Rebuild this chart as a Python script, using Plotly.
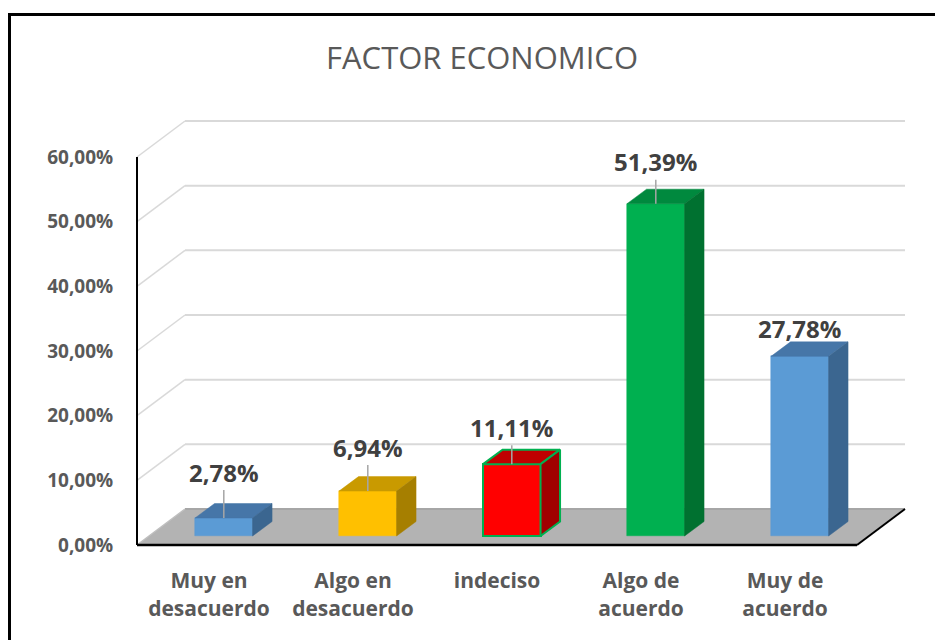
import plotly.graph_objects as go

# ---------------- data ----------------
categories = ["Muy en<br>desacuerdo", "Algo en<br>desacuerdo", "indeciso",
              "Algo de<br>acuerdo", "Muy de<br>acuerdo"]
values = [2.78, 6.94, 11.11, 51.39, 27.78]
value_labels = ["2,78%", "6,94%", "11,11%", "51,39%", "27,78%"]
y_ticks = [0, 10, 20, 30, 40, 50, 60]
y_tick_labels = ["0,00%", "10,00%", "20,00%", "30,00%", "40,00%", "50,00%", "60,00%"]
title_text = "FACTOR ECONOMICO"

# ---------------- styles ----------------
front_colors = ["#5B9BD5", "#FFC000", "#FF0000", "#00B050", "#5B9BD5"]
top_colors = ["#4676A8", "#C99A00", "#C00000", "#00893E", "#4676A8"]
side_colors = ["#3B6690", "#A67F00", "#A00000", "#007130", "#3B6690"]
edge_colors = ["#5B9BD5", "#FFC000", "#00B050", "#00B050", "#5B9BD5"]
edge_widths = [0.5, 0.5, 2, 0.5, 0.5]
label_offsets_px = [46, 44, 37, 42, 28]
label_leader = [True, True, True, True, False]

FONT = "Open Sans"
W, H = 943, 640
PAGE_OFF = 8                      # default body margin of the html page
X0_PX, Y0_PX = 137 - PAGE_OFF, 545 - PAGE_OFF   # front-plane origin (figure px)
PX_PER_CAT = 144.0
PX_PER_PCT = 6.467
BACK_DX_PX, BACK_DY_PX = 48, 36   # depth of the floor
BAR_DX_PX, BAR_DY_PX = 14.8, 9    # bar plane offset
BAR_W_PX = 57.5
DEPTH_DX_PX, DEPTH_DY_PX = 19.5, 14.5
PAD = 4

n = len(categories)
x_min = -0.5
x_max = n - 0.5
y_top = y_ticks[-1]
bdx = BACK_DX_PX / PX_PER_CAT
bdy = BACK_DY_PX / PX_PER_PCT
bar_dx = BAR_DX_PX / PX_PER_CAT
bar_dy = BAR_DY_PX / PX_PER_PCT
bar_w = BAR_W_PX / PX_PER_CAT
ddx = DEPTH_DX_PX / PX_PER_CAT
ddy = DEPTH_DY_PX / PX_PER_PCT

left = X0_PX - PAD
bottom_px = Y0_PX + PAD
plot_w = n * PX_PER_CAT + BACK_DX_PX + 2 * PAD
plot_h = y_top * PX_PER_PCT + BACK_DY_PX + 2 * PAD
right = W - left - plot_w
top = bottom_px - plot_h
bottom = H - bottom_px

x_range = [x_min - PAD / PX_PER_CAT, x_max + bdx + PAD / PX_PER_CAT]
y_range = [-PAD / PX_PER_PCT, y_top + bdy + PAD / PX_PER_PCT]

fig = go.Figure()

# front faces
centers = [i + bar_dx for i in range(n)]
fig.add_trace(go.Bar(
    x=centers, y=values, base=bar_dy, width=bar_w,
    marker=dict(color=front_colors,
                line=dict(color=edge_colors, width=edge_widths)),
    hoverinfo="skip", showlegend=False,
))

# top and side faces
for i, v in enumerate(values):
    c = centers[i]
    xl, xr = c - bar_w / 2, c + bar_w / 2
    yb, yt = bar_dy, bar_dy + v
    fig.add_trace(go.Scatter(
        x=[xl, xr, xr + ddx, xl + ddx, xl],
        y=[yt, yt, yt + ddy, yt + ddy, yt],
        mode="lines", fill="toself", fillcolor=top_colors[i],
        line=dict(color=edge_colors[i] if edge_widths[i] > 1 else top_colors[i],
                  width=edge_widths[i]),
        hoverinfo="skip", showlegend=False, cliponaxis=False,
    ))
    fig.add_trace(go.Scatter(
        x=[xr, xr + ddx, xr + ddx, xr, xr],
        y=[yb, yb + ddy, yt + ddy, yt, yb],
        mode="lines", fill="toself", fillcolor=side_colors[i],
        line=dict(color=edge_colors[i] if edge_widths[i] > 1 else side_colors[i],
                  width=edge_widths[i]),
        hoverinfo="skip", showlegend=False, cliponaxis=False,
    ))

shapes = []
# floor
shapes.append(dict(type="path", xref="x", yref="y", layer="below",
                   path=f"M {x_min},0 L {x_max},0 L {x_max + bdx},{bdy} L {x_min + bdx},{bdy} Z",
                   fillcolor="#B3B3B3", line=dict(width=0)))
# back wall + left wall grid
for v in y_ticks:
    col = "#D9D9D9" if v > 0 else "#A6A6A6"
    shapes.append(dict(type="line", xref="x", yref="y", layer="below",
                       x0=x_min + bdx, y0=v + bdy, x1=x_max + bdx, y1=v + bdy,
                       line=dict(color=col, width=2)))
    shapes.append(dict(type="line", xref="x", yref="y", layer="below",
                       x0=x_min, y0=v, x1=x_min + bdx, y1=v + bdy,
                       line=dict(color="#D9D9D9" if v > 0 else "#BFBFBF", width=1.5)))
# front axes
shapes.append(dict(type="line", xref="x", yref="y", layer="below",
                   x0=x_min, y0=0, x1=x_min, y1=y_top, line=dict(color="#000000", width=2)))
shapes.append(dict(type="line", xref="x", yref="y", layer="below",
                   x0=x_min, y0=0, x1=x_max, y1=0, line=dict(color="#000000", width=2.5)))
shapes.append(dict(type="line", xref="x", yref="y", layer="below",
                   x0=x_max, y0=0, x1=x_max + bdx, y1=bdy, line=dict(color="#000000", width=2)))
# outer border
def xp(px):
    return (px - PAGE_OFF - left) / plot_w
def yp(py):
    return (H - bottom - (py - PAGE_OFF)) / plot_h
shapes.append(dict(type="rect", xref="paper", yref="paper",
                   x0=xp(9.5), x1=xp(W + 20), y0=yp(H + 20), y1=yp(14.5),
                   line=dict(color="#000000", width=3), fillcolor="rgba(0,0,0,0)"))

annotations = []
for i, v in enumerate(values):
    annotations.append(dict(
        x=centers[i], y=bar_dy + v, xref="x", yref="y",
        text=value_labels[i], showarrow=True, arrowhead=0, standoff=0,
        arrowwidth=1.5,
        arrowcolor="#A6A6A6" if label_leader[i] else "rgba(0,0,0,0)",
        ax=0, ay=-label_offsets_px[i],
        font=dict(family=FONT, size=24, color="#404040", weight="bold"),
    ))

fig.update_layout(
    width=W, height=H,
    margin=dict(l=left, r=right, t=top, b=bottom, autoexpand=False),
    paper_bgcolor="white", plot_bgcolor="white",
    title=dict(text=title_text, x=(482 - PAGE_OFF) / W, xref="container", xanchor="center",
               y=1 - (58 - PAGE_OFF) / H, yref="container", yanchor="middle",
               font=dict(family=FONT, size=31, color="#595959")),
    xaxis=dict(range=x_range, tickvals=list(range(n)), ticktext=categories,
               showgrid=False, zeroline=False, showline=False,
               ticks="outside", ticklen=13, tickcolor="rgba(0,0,0,0)",
               tickfont=dict(family=FONT, size=21, color="#595959", weight="bold"),
               fixedrange=True),
    yaxis=dict(range=y_range, tickvals=y_ticks, ticktext=y_tick_labels,
               showgrid=False, zeroline=False, showline=False,
               ticks="outside", ticklen=15, tickcolor="rgba(0,0,0,0)",
               tickfont=dict(family=FONT, size=19, color="#595959", weight="bold"),
               fixedrange=True),
    shapes=shapes, annotations=annotations,
    bargap=0, showlegend=False,
)

fig.write_html("out.html")
